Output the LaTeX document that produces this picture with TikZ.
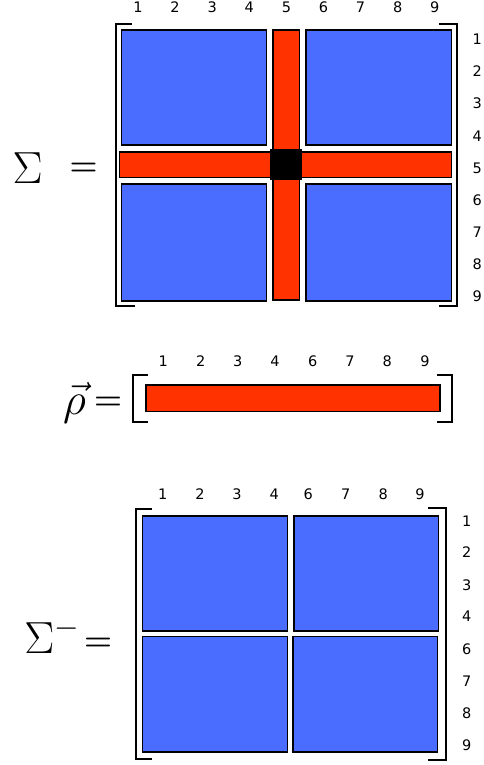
\RequirePackage{fix-cm}
\documentclass[tikz,border=0pt]{standalone}
\usepackage{fontspec}
\newfontfamily\idxfont{DejaVu Sans}
\definecolor{blkblue}{RGB}{74,108,255}
\definecolor{barred}{RGB}{255,50,0}
\begin{document}
\begin{tikzpicture}[x=1pt, y=-1pt,
    blk/.style={fill=blkblue, draw=black, line width=1.6pt},
    bar/.style={fill=barred, draw=black, line width=1.6pt},
    brk/.style={line width=2.2pt},
    idx/.style={inner sep=0pt, anchor=base, font=\idxfont\fontsize{14.5}{16}\selectfont},
    sym/.style={inner sep=0pt, font=\fontsize{45}{50}\selectfont},
    eqs/.style={inner sep=0pt, anchor=base, font=\fontsize{32}{36}\selectfont\bfseries}]
    \useasboundingbox (0,0) rectangle (483,765);
    % Ma tran Sigma
    \node[sym, anchor=base west] (sig) at (12.5,183) {$\Sigma$};
    \node[eqs] (eqsig) at (83.5,175.3) {=};
    \draw[brk] (132,24) -- (116,24) -- (116,306) -- (135,306);
    \draw[brk] (439,24) -- (457,24) -- (457,306) -- (439,306);
    \draw[blk] (121.5,29.8) rectangle (266.5,144.8);
    \draw[blk] (305.8,29.8) rectangle (451.5,144.8);
    \draw[blk] (121.5,183.8) rectangle (266.5,300.8);
    \draw[blk] (305.8,183.8) rectangle (451.5,300.8);
    \draw[bar] (273.1,29.8) rectangle (299.5,299.9);
    \draw[bar] (119.5,151.8) rectangle (451.5,177.5);
    \fill (270,149) rectangle (302,180);
    \foreach \i in {1,...,9} {
        \node[idx] (sc\i) at ({138+37.1*(\i-1)},13) {\i};
        \node[idx, anchor=base west] (sr\i) at (472.5,{45+32*(\i-1)}) {\i};
    }
    % Vecto rho
    \node[sym, anchor=base] (rho) at (74.5,414) {$\vec{\rho}$};
    \node[eqs] (eqrho) at (108,409.8) {=};
    \draw[brk] (148,375) -- (132.7,375) -- (132.7,421.7) -- (148,421.7);
    \draw[brk] (436.7,375) -- (452.3,375) -- (452.3,421.7) -- (436.7,421.7);
    \draw[bar] (145.8,384.8) rectangle (440,411.5);
    \foreach \i/\x in {1/163.3,2/200.7,3/237.7,4/275,6/312.7,7/350,8/387.3,9/425}
        \node[idx] (rc\i) at (\x,366.7) {\i};
    % Ma tran Sigma^-
    \node[sym, anchor=base west] (sigm) at (24.2,653.3) {$\Sigma^{-}$};
    \node[eqs] (eqsigm) at (98,650.8) {=};
    \draw[brk] (151.7,509.3) -- (135.7,509.3) -- (135.7,759.3) -- (151.7,759.3);
    \draw[brk] (428.3,508.3) -- (446,508.3) -- (446,760) -- (428.3,760);
    \draw[blk] (142.5,515.8) rectangle (287.5,630.9);
    \draw[blk] (294.1,515.8) rectangle (438.5,630.9);
    \draw[blk] (142.5,636.5) rectangle (287.5,751.9);
    \draw[blk] (293.1,636.5) rectangle (437.5,751.9);
    \foreach \i/\x in {1/162.7,2/200,3/237,4/274.3,6/308.3,7/345.7,8/383.3,9/420}
        \node[idx] (mc\i) at (\x,499) {\i};
    \foreach \i/\y in {1/521.7,2/552.7,3/585,4/616.7,6/649.3,7/681,8/713.3,9/745}
        \node[idx] (mr\i) at (466.7,\y+5) {\i};
\end{tikzpicture}
\end{document}
